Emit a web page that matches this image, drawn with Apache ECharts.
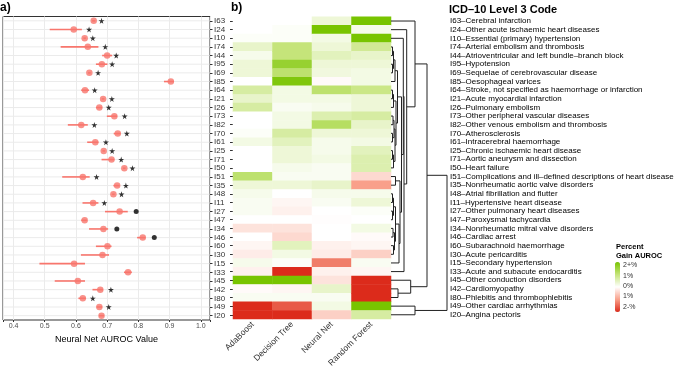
<!DOCTYPE html>
<html><head><meta charset="utf-8">
<script src="https://cdn.jsdelivr.net/npm/echarts@6/dist/echarts.min.js"></script>
<style>html,body{margin:0;padding:0;background:#fff}#c{width:685px;height:372px}</style>
</head><body><div id="c"></div>
<script>
const codes = ['I63','I24','I10','I74','I44','I95','I69','I85','I64','I21','I26','I73','I82','I70','I61','I25','I71','I50','I51','I35','I48','I11','I27','I47','I34','I46','I60','I30','I15','I33','I45','I42','I80','I49','I20'];
const descriptions = ['Cerebral infarction','Other acute ischaemic heart diseases','Essential (primary) hypertension','Arterial embolism and thrombosis','Atrioventricular and left bundle\u2013branch block','Hypotension','Sequelae of cerebrovascular disease','Oesophageal varices','Stroke, not specified as haemorrhage or infarction','Acute myocardial infarction','Pulmonary embolism','Other peripheral vascular diseases','Other venous embolism and thrombosis','Atherosclerosis','Intracerebral haemorrhage','Chronic ischaemic heart disease','Aortic aneurysm and dissection','Heart failure','Complications and ill\u2013defined descriptions of heart disease','Nonrheumatic aortic valve disorders','Atrial fibrillation and flutter','Hypertensive heart disease','Other pulmonary heart diseases','Paroxysmal tachycardia','Nonrheumatic mitral valve disorders','Cardiac arrest','Subarachnoid haemorrhage','Acute pericarditis','Secondary hypertension','Acute and subacute endocarditis','Other conduction disorders','Cardiomyopathy','Phlebitis and thrombophlebitis','Other cardiac arrhythmias','Angina pectoris'];
const models = ['AdaBoost','Decision Tree','Neural Net','Random Forest'];
const nnAuroc = [0.657,0.593,0.628,0.638,0.700,0.683,0.643,0.904,0.629,0.687,0.675,0.723,0.617,0.734,0.662,0.689,0.714,0.755,0.622,0.732,0.720,0.655,0.740,0.628,0.688,0.814,0.701,0.685,0.594,0.767,0.606,0.678,0.622,0.675,0.682];
const ciLow  = [0.652,0.516,0.624,0.551,0.684,0.664,0.639,0.882,0.617,0.683,0.664,0.699,0.574,0.721,0.636,0.685,0.682,0.751,0.556,0.720,0.716,0.621,0.693,0.617,0.642,0.796,0.664,0.616,0.483,0.754,0.532,0.653,0.608,0.666,0.674];
const ciHigh = [0.662,0.619,0.632,0.672,0.716,0.701,0.647,0.914,0.642,0.691,0.684,0.732,0.638,0.743,0.672,0.693,0.723,0.759,0.644,0.740,0.724,0.672,0.766,0.635,0.703,0.823,0.714,0.706,0.629,0.779,0.629,0.687,0.632,0.684,0.690];
const starAuroc = [0.682,0.642,0.654,0.694,0.729,0.716,0.671,null,0.660,0.715,0.705,0.756,0.659,0.763,0.696,0.716,0.745,0.781,0.666,0.760,0.746,0.691,null,null,null,null,null,null,null,null,null,0.712,0.654,0.705,null];
const dotAuroc = [null,null,null,null,null,null,null,null,null,null,null,null,null,null,null,null,null,null,null,null,null,null,0.793,null,0.731,0.851,null,null,null,null,null,null,null,null,null];
const gainAdaBoost = [0,0,0.05,0.4,0.15,0.3,0.3,0,0.7,0.4,0.7,0,0,0.05,0.2,0,0,0,1.1,0.3,0.15,0.1,0.1,0,-0.3,0,-0.1,-0.2,0.15,-0.15,2,-0.05,0.1,-2,-2];
const gainDecisionTree = [0,0.05,0.05,1.0,1.0,1.6,1.1,1.9,0.2,0.2,0.1,0.2,0.2,0.7,0.5,0.3,0.3,0.15,0.1,0.3,0,-0.1,-0.15,0,-0.3,-0.4,0.5,0.2,0.05,-2,2,-0.1,0.1,-1.6,-2];
const gainNeuralNet = [0.3,2,0.2,0.3,0.5,0.3,0.25,-0.05,1.1,0.2,0.15,0.6,1.2,0.3,0.15,0.15,0.2,0.1,0.1,0.4,0.15,0.1,0,-0.02,0,0,-0.15,-0.2,-1.3,-0.15,-0.3,0.4,0.1,0.2,-0.5];
const gainRandomForest = [2,0.15,2,0.8,0.4,0.3,0.2,0.2,0.9,0.3,0.3,0.7,0.4,0.3,0.2,0.5,0.6,0.6,-0.4,-1.0,0.15,0.3,0.05,0,0.2,-0.05,-0.1,-0.5,0.1,-0.1,-2,-2,-2,2,0.7];
const legendLabels = ['2+%','1%','0%','1%','2-%'];
// dendrogram merges: [childA, childB, height]; children are codes or 'n<k>' (k-th merge)
const dendroMerges = [
  ['I74','I44',1.5],['I95','I69',1.5],['n0','n1',2.5],['n2','I85',4],
  ['I64','I21',1.5],['n4','I26',2.5],['I73','I82',2],['I70','I61',1.5],['n6','n7',3],
  ['I25','I71',1.5],['n9','I50',2.5],['n8','n10',4],['n5','n11',5],['n3','n12',6.5],
  ['I51','I35',4.5],['I48','I11',1.5],['I27','I47',1.5],['n15','n16',2.5],
  ['I34','I46',2],['I60','I30',2.5],['n18','n19',3.5],['n17','n20',4.5],
  ['n21','I15',8],['n14','n22',9],['n13','n23',10.5],
  ['I10','n24',12.3],['n25','I33',13],['I24','n26',15.7],['I63','n27',24],
  ['I42','I80',7],['I45','n29',19.7],['n28','n30',36],['I49','I20',24],['n31','n32',56]
];

const FONT = '"Liberation Sans", Arial, sans-serif';
const salmon = '#F8766D';
const starPath = 'path://M50,0 L61,35 L98,35 L68,57 L79,91 L50,70 L21,91 L32,57 L2,35 L39,35 Z';

const fullLabels = codes.map((c,i)=> c + '\u2013' + descriptions[i]);

const heatData = [];
[gainAdaBoost, gainDecisionTree, gainNeuralNet, gainRandomForest].forEach((arr, m) => {
  arr.forEach((v, i) => heatData.push([m, i, v]));
});

const pos = {};
codes.forEach((c,i)=> pos[c] = {h:0, y:i});
const dendroSegs = dendroMerges.map((m,k)=>{
  const a = pos[m[0]], b = pos[m[1]];
  pos['n'+k] = {h:m[2], y:(a.y+b.y)/2};
  return [a.h, a.y, b.h, b.y, m[2]];
});

const chart = echarts.init(document.getElementById('c'));
chart.setOption({
  animation: false,
  textStyle: {fontFamily: FONT},
  title: [
    {text:'a)', left:0, top:2, padding:0, textStyle:{fontSize:12, fontWeight:'bold', color:'#000', fontFamily:FONT}},
    {text:'b)', left:231, top:2, padding:0, textStyle:{fontSize:12, fontWeight:'bold', color:'#000', fontFamily:FONT}},
    {text:'ICD\u201310 Level 3 Code', left:449, top:4, padding:0, textStyle:{fontSize:11, fontWeight:'bold', color:'#000', fontFamily:FONT}}
  ],
  grid: [
    {left:0, top:16.5, width:210, height:303.5, show:true, borderColor:'#333', borderWidth:1, backgroundColor:'#fff'},
    {left:233, top:16.7, width:158, height:302.4},
    {left:391, top:16.7, width:58, height:302.4}
  ],
  xAxis: [
    {type:'value', gridIndex:0, min:0.3663, max:1.0295, splitNumber:6,
     axisLine:{show:false}, axisTick:{show:true, length:2, lineStyle:{color:'#333'}},
     axisLabel:{fontSize:7, color:'#4d4d4d', margin:3, fontFamily:FONT,
       formatter: v => Math.abs(v*10 - Math.round(v*10)) < 1e-6 ? v.toFixed(1) : ''},
     splitLine:{show:true, lineStyle:{color:'#ebebeb', width:1}},
     name:'Neural Net AUROC Value', nameLocation:'middle', nameGap:15,
     nameTextStyle:{fontSize:9, color:'#000', fontFamily:FONT}},
    {type:'category', gridIndex:1, data:models, axisLine:{show:false}, axisTick:{show:false},
     axisLabel:{rotate:45, interval:0, fontSize:8.5, color:'#333', margin:4, fontFamily:FONT}},
    {type:'value', gridIndex:2, min:0, max:58, show:false}
  ],
  yAxis: [
    {type:'category', gridIndex:0, data:codes, inverse:true, position:'right',
     axisLine:{show:false}, axisTick:{show:true, interval:0, length:2.5, alignWithLabel:true, lineStyle:{color:'#333'}},
     axisLabel:{interval:0, fontSize:8, color:'#333', margin:4, fontFamily:FONT}, splitLine:{show:false}},
    {type:'category', gridIndex:1, data:codes, inverse:true, position:'left',
     axisLine:{show:false}, axisTick:{show:true, interval:0, length:3, alignWithLabel:true, lineStyle:{color:'#333'}},
     axisLabel:{show:false}},
    {type:'value', gridIndex:2, min:-0.5, max:34.5, inverse:true, show:false},
    {type:'category', gridIndex:2, data:fullLabels, inverse:true, position:'right',
     axisLine:{show:false}, axisTick:{show:false},
     axisLabel:{interval:0, fontSize:8, color:'#000', margin:1, fontFamily:FONT}}
  ],
  visualMap: {
    type:'continuous', min:-2, max:2, seriesIndex:5, orient:'vertical',
    left:615, top:262, itemWidth:5, itemHeight:50, padding:0, calculable:false, text:null,
    inRange:{color:['#dc2b1b','#f9a08a','#ffffff','#c5e47a','#78c400']}
  },
  graphic: [
    {type:'text', left:616, top:243, style:{text:'Percent', font:'bold 7.5px '+FONT, fill:'#000'}},
    {type:'text', left:616, top:252, style:{text:'Gain AUROC', font:'bold 7.5px '+FONT, fill:'#000'}}
  ].concat(legendLabels.map((t,i)=>({type:'text', left:623, top:262 + i*10.3, style:{text:t, font:'7px '+FONT, fill:'#333'}}))),
  series: [
    {type:'custom', xAxisIndex:0, yAxisIndex:0, silent:true,
     data: codes.map((c,i)=>[0.5, i]), encode:{x:0, y:1},
     renderItem:(params, api)=>{
       const y = api.coord([api.value(0), api.value(1)])[1];
       const cs = params.coordSys;
       return {type:'line', shape:{x1:cs.x+0.5, y1:y, x2:cs.x+cs.width-0.5, y2:y}, style:{stroke:'#ebebeb', lineWidth:1}};
     }},
    {type:'custom', xAxisIndex:0, yAxisIndex:0, silent:true,
     data: codes.map((c,i)=>[ciLow[i], ciHigh[i], i]), encode:{x:[0,1], y:2},
     renderItem:(params, api)=>{
       const p1 = api.coord([api.value(0), api.value(2)]);
       const p2 = api.coord([api.value(1), api.value(2)]);
       return {type:'line', shape:{x1:p1[0], y1:p1[1], x2:p2[0], y2:p2[1]}, style:{stroke:salmon, lineWidth:1.6}};
     }},
    {type:'scatter', xAxisIndex:0, yAxisIndex:0, symbol:'circle', symbolSize:6.5,
     itemStyle:{color:salmon}, data: nnAuroc.map((v,i)=>[v, i])},
    {type:'scatter', xAxisIndex:0, yAxisIndex:0, symbol:starPath, symbolSize:6,
     itemStyle:{color:'#000'}, data: starAuroc.map((v,i)=>[v,i]).filter(d=>d[0]!==null)},
    {type:'scatter', xAxisIndex:0, yAxisIndex:0, symbol:'circle', symbolSize:5,
     itemStyle:{color:'#000'}, data: dotAuroc.map((v,i)=>[v,i]).filter(d=>d[0]!==null)},
    {type:'heatmap', xAxisIndex:1, yAxisIndex:1, data:heatData, itemStyle:{borderWidth:0}},
    {type:'custom', xAxisIndex:2, yAxisIndex:2, silent:true, data:dendroSegs,
     encode:{x:[0,2,4], y:[1,3]},
     renderItem:(params, api)=>{
       const a = api.coord([api.value(0), api.value(1)]);
       const a2 = api.coord([api.value(4), api.value(1)]);
       const b2 = api.coord([api.value(4), api.value(3)]);
       const b = api.coord([api.value(2), api.value(3)]);
       return {type:'polyline', shape:{points:[a,a2,b2,b]}, style:{stroke:'#222', lineWidth:1, fill:null}};
     }}
  ]
});
</script></body></html>
